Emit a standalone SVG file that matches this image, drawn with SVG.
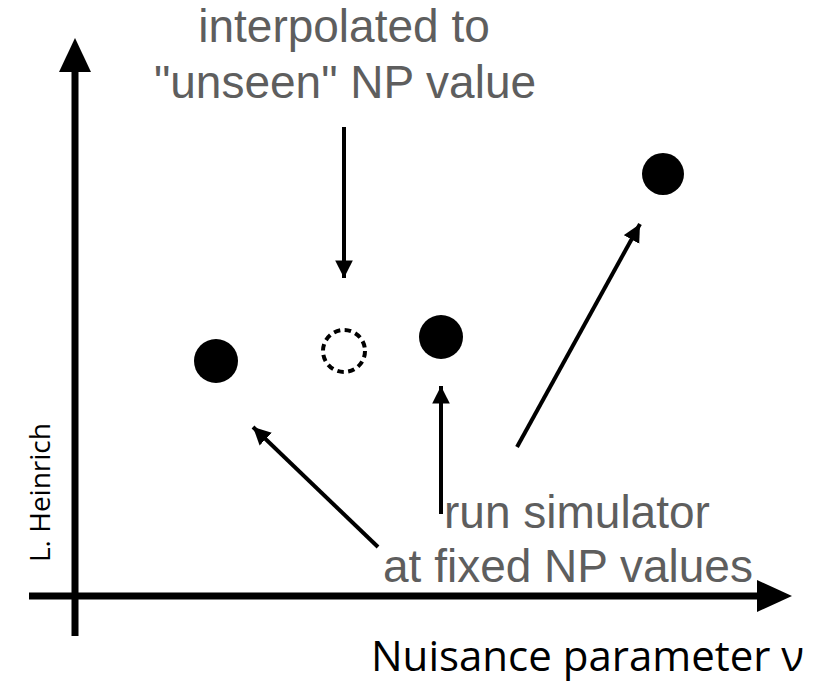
<svg xmlns="http://www.w3.org/2000/svg" width="836" height="685" viewBox="0 0 836 685">
  <defs>
    <marker id="head" viewBox="0 0 10 10" refX="10" refY="5" markerWidth="4.4" markerHeight="4.5" markerUnits="strokeWidth" orient="auto">
      <path d="M0,0 L10,5 L0,10 Z" fill="#000"/>
    </marker>
  </defs>
  <style>
    .note { font-family: "Liberation Sans", Arial, sans-serif; font-size: 46px; fill: #5e5e5e; }
    .axis-label { font-family: "Open Sans", "Noto Sans", sans-serif; fill: #000; }
    .axis { stroke: #000; stroke-width: 7; fill: none; }
    .conn { stroke: #000; stroke-width: 4; fill: none; marker-end: url(#head); }
    .dot { fill: #000; }
  </style>
  <rect width="836" height="685" fill="#fff"/>

  <!-- axes -->
  <g id="axes">
    <line class="axis" x1="75" y1="636" x2="75" y2="70"/>
    <polygon points="75,38 59,72 91,72" fill="#000"/>
    <line class="axis" x1="29" y1="596" x2="760" y2="596"/>
    <polygon points="792,596 757,580 757,612" fill="#000"/>
  </g>

  <!-- simulated points and interpolated point -->
  <g id="point-1"><circle class="dot" cx="216" cy="361" r="22"/></g>
  <g id="point-interp"><circle cx="344" cy="351" r="21" fill="none" stroke="#000" stroke-width="4" stroke-dasharray="6.5 4.5"/></g>
  <g id="point-2"><circle class="dot" cx="441" cy="337" r="22"/></g>
  <g id="point-3"><circle class="dot" cx="663" cy="174" r="21"/></g>

  <!-- labels -->
  <g id="label-interp">
    <text class="note" x="344" y="42" text-anchor="middle">interpolated to</text>
    <text class="note" x="345" y="98" text-anchor="middle">"unseen" NP value</text>
  </g>
  <g id="label-sim">
    <text class="note" x="444" y="528">run simulator</text>
    <text class="note" x="383" y="582">at fixed NP values</text>
  </g>
  <g id="label-x">
    <text class="axis-label" x="371" y="671" font-size="42">Nuisance parameter ν</text>
  </g>
  <g id="credit">
    <text class="axis-label" font-size="28" transform="translate(50,562) rotate(-90)">L. Heinrich</text>
  </g>

  <!-- connectors -->
  <g id="connectors">
    <line class="conn" x1="344" y1="127" x2="344" y2="278"/>
    <line class="conn" x1="378" y1="547" x2="253" y2="427"/>
    <line class="conn" x1="441" y1="514" x2="441" y2="386"/>
    <line class="conn" x1="517" y1="447" x2="640" y2="224"/>
  </g>
</svg>
